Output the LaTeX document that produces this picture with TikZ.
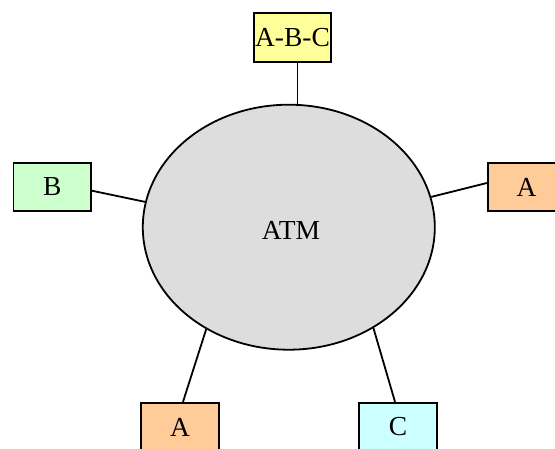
\documentclass[tikz,border=0pt]{standalone}
\usepackage{fontspec}
\setmainfont{Liberation Serif}
\usetikzlibrary{shapes.geometric,calc}
\definecolor{hubgray}{HTML}{DDDDDD}
\definecolor{boxyellow}{HTML}{FFFF99}
\definecolor{boxgreen}{HTML}{CCFFCC}
\definecolor{boxorange}{HTML}{FFCC99}
\definecolor{boxcyan}{HTML}{CCFFFF}
\tikzset{
  every node/.style={font=\fontsize{27.5}{30}\selectfont},
  hub/.style={ellipse, draw, line width=1.8pt, fill=hubgray,
    minimum width=292pt, minimum height=245pt, inner sep=0pt},
  site/.style={rectangle, draw, line width=1.8pt, inner sep=0pt,
    minimum width=77.5pt, minimum height=48.5pt},
  link/.style={line width=1.8pt}
}
\begin{document}
\begin{tikzpicture}[x=1pt,y=-1pt]
  \useasboundingbox (0,0) rectangle (555,448);
  \node[hub] (atm) at (288.8,227.2) {};
  \node at (291,230) {ATM};
  \node[site, fill=boxyellow] (abc) at (292.5,37.5) {A-B-C};
  \node[site, fill=boxgreen] (b) at (52.2,187) {B};
  \node[site, fill=boxorange] (aright) at (526.5,187) {A};
  \node[site, fill=boxorange] (abottom) at (180,427) {A};
  \node[site, fill=boxcyan] (c) at (398,427) {C};
  % spokes from the hub to each site
  \draw[link] (abc.south -| atm.86.2) -- (atm.86.2);
  \draw[link] ([yshift=-3.7pt]b.east) -- (atm.170.7);
  \draw[link] ([yshift=4pt]aright.west) -- (atm.12.3);
  \draw[link] ([xshift=3pt]abottom.north) -- (atm.231.1);
  \draw[link] ([xshift=-3pt]c.north) -- (atm.310);
\end{tikzpicture}
\end{document}
